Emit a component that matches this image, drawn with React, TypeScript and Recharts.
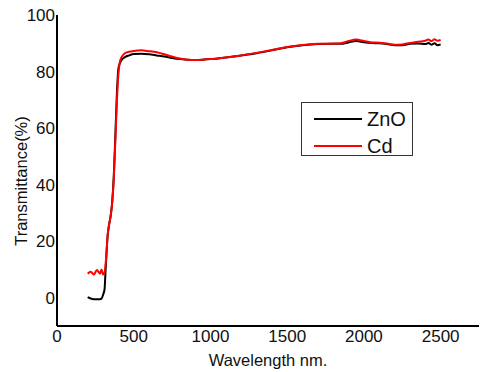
import { LineChart, Line, XAxis, YAxis } from "recharts";

document.body.style.margin = "0";

const wavelengths = [
  200, 220, 240, 260, 280, 290, 300, 310, 315, 320, 330, 340, 350, 360, 370, 380, 390, 400, 410, 420,
  440, 470, 500, 550, 600, 650, 700, 750, 800, 850, 900, 950, 1000, 1100, 1200, 1300, 1400, 1500,
  1600, 1700, 1800, 1850, 1900, 1950, 2000, 2050, 2100, 2150, 2200, 2250, 2300, 2350, 2400, 2420,
  2440, 2460, 2480, 2500,
];

const znO = [
  0.2, -0.3, -0.5, -0.5, -0.5, -0.3, 1, 3, 8, 13, 22, 26, 29, 34, 43, 57, 72, 81, 83, 84,
  85, 85.7, 86.2, 86.3, 86.1, 85.7, 85.3, 84.8, 84.4, 84.2, 84.1, 84.2, 84.4, 85, 85.7, 86.5, 87.5, 88.6,
  89.3, 89.7, 89.8, 89.8, 90.3, 90.8, 90.4, 90.1, 90, 89.7, 89.3, 89.3, 89.8, 89.9, 89.7, 90.1,
  89.5, 90, 89.3, 89.6,
];

const cd = [
  8.5, 9.2, 8.2, 9.8, 8.5, 10, 8.2, 9, 11, 14, 22, 26, 29, 34, 42, 55, 69, 79, 83.5, 85,
  86.4, 87, 87.3, 87.5, 87.2, 86.8, 86.1, 85.3, 84.6, 84.2, 84.1, 84.2, 84.4, 85, 85.7, 86.6, 87.6, 88.7,
  89.4, 89.8, 89.9, 90, 90.8, 91.3, 90.8, 90.3, 90.2, 89.9, 89.5, 89.6, 90.1, 90.5, 90.9, 91.3,
  90.8, 91.4, 90.9, 91.2,
];

const xTicks = [0, 500, 1000, 1500, 2000, 2500];
const yTicks = [0, 20, 40, 60, 80, 100];

const series = [
  { name: "ZnO", color: "#000000" },
  { name: "Cd", color: "#ff0000" },
];

const data = wavelengths.map((w, i) => ({ w, ZnO: znO[i], Cd: cd[i] }));

const FONT = "'Liberation Sans', Arial, sans-serif";

function LegendBox() {
  return (
    <div
      style={{
        position: "absolute",
        left: 301,
        top: 102,
        width: 110,
        height: 52,
        border: "1px solid #333",
        background: "#fff",
        fontFamily: FONT,
        fontSize: 20,
        color: "#111",
      }}
    >
      {series.map((r, i) => (
        <div
          key={r.name}
          style={{
            position: "absolute",
            left: 12,
            top: 4 + i * 27,
            height: 24,
            display: "flex",
            alignItems: "center",
          }}
        >
          <span style={{ display: "inline-block", width: 48, height: 2, background: r.color, marginRight: 5 }} />
          <span>{r.name}</span>
        </div>
      ))}
    </div>
  );
}

export default function App() {
  return (
    <div style={{ position: "relative", width: 480, height: 372 }}>
      <LineChart width={480} height={372} data={data} margin={{ top: 15, right: 1, left: 0, bottom: 0 }}>
        <XAxis
          dataKey="w"
          type="number"
          domain={[0, 2750]}
          ticks={xTicks}
          tickLine={false}
          tickSize={0}
          tickMargin={4}
          height={46}
          axisLine={{ stroke: "#000", strokeWidth: 2 }}
          tick={{ fill: "#111", fontSize: 17, fontFamily: FONT }}
          label={{
            content: (p: any) => (
              <text
                x={p.viewBox.x + p.viewBox.width / 2}
                y={366}
                textAnchor="middle"
                fill="#111"
                fontSize={16.5}
                fontFamily={FONT}
              >
                Wavelength nm.
              </text>
            ),
          }}
        />
        <YAxis
          type="number"
          domain={[-10, 100]}
          ticks={yTicks}
          tickLine={false}
          tickSize={0}
          tickMargin={2}
          width={57}
          axisLine={{ stroke: "#000", strokeWidth: 2 }}
          tick={{ fill: "#111", fontSize: 17, fontFamily: FONT }}
          label={{
            content: () => (
              <text
                x={21}
                y={181}
                transform="rotate(-90 21 181)"
                textAnchor="middle"
                dominantBaseline="central"
                fill="#111"
                fontSize={16.5}
                fontFamily={FONT}
              >
                Transmittance(%)
              </text>
            ),
          }}
        />
        {series.map((s) => (
          <Line
            key={s.name}
            dataKey={s.name}
            stroke={s.color}
            strokeWidth={2}
            dot={false}
            type="monotone"
            isAnimationActive={false}
          />
        ))}
      </LineChart>
      <LegendBox />
    </div>
  );
}
